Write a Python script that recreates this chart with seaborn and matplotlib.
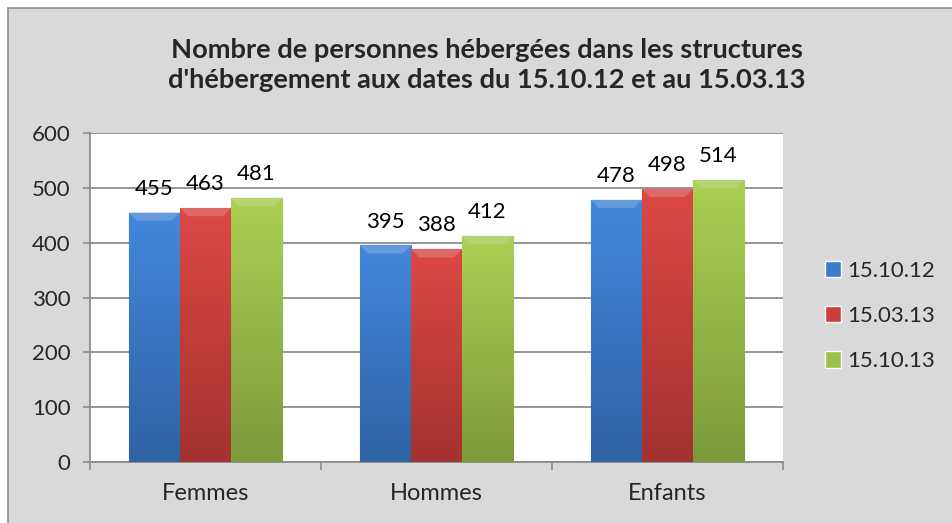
"""Bar chart: persons housed in accommodation structures."""

import matplotlib
matplotlib.use("Agg")
import matplotlib.pyplot as plt
import matplotlib.colors as mcolors
import numpy as np
import pandas as pd
import seaborn as sns
from matplotlib.patches import Polygon, Rectangle

categories = ["Femmes", "Hommes", "Enfants"]
series_names = ["15.10.12", "15.03.13", "15.10.13"]
values_151012 = [455, 395, 478]
values_150313 = [463, 388, 498]
values_151013 = [481, 412, 514]
y_ticks = [0, 100, 200, 300, 400, 500, 600]
title = ("Nombre de personnes hébergées dans les structures\n"
         "d'hébergement aux dates du 15.10.12 et au 15.03.13")

colors = ["#3A7BCC", "#CC3F3C", "#9CC04A"]

df = pd.DataFrame({
    "categorie": categories * 3,
    "date": [s for s in series_names for _ in categories],
    "valeur": values_151012 + values_150313 + values_151013,
})

sns.set_theme(style="white")
plt.rcParams["font.family"] = ["Lato", "DejaVu Sans"]

fig = plt.figure(figsize=(9.53, 5.23), dpi=100)
fig.patch.set_facecolor("white")
# chart area frame (runs off the right and bottom edges, as in the source)
fig.patches.append(Rectangle((8 / 953, -0.1), 2, 1.1 - 8 / 523,
                             transform=fig.transFigure, facecolor="#D9D9D9",
                             edgecolor="#8C8C8C", linewidth=1.2, zorder=-1))

ax = fig.add_axes([90 / 953, 61 / 523, 693 / 953, 329 / 523])
ax.set_zorder(2)
ax.set_facecolor("white")

sns.barplot(data=df, x="categorie", y="valeur", hue="date",
            hue_order=series_names, palette=colors, width=0.663,
            saturation=1, gap=0, ax=ax, zorder=3)

ax.set_xlim(-0.5, 2.5)
ax.set_ylim(0, 600)

# pixel -> data scale, used for the bevel on each bar
fig.canvas.draw()
bb = ax.get_window_extent()
px_x = 3.0 / bb.width
px_y = 600.0 / bb.height

# vertical gradient and top bevel on each bar, clipped to the bar shape
for container, col in zip(ax.containers, colors):
    base = np.array(mcolors.to_rgb(col))
    light = np.clip(base * 1.06 + 0.02, 0, 1)
    dark = base * 0.80
    grad = np.linspace(0, 1, 256)[:, None, None]
    img = light * (1 - grad) + dark * grad
    bevel = np.clip(base + (1 - base) * 0.35, 0, 1)
    for bar in container:
        bar.set_edgecolor(tuple(dark * 0.85))
        bar.set_linewidth(0.8)
        x0, y0 = bar.get_x(), bar.get_y()
        w, h = bar.get_width(), bar.get_height()
        im = ax.imshow(img, extent=[x0, x0 + w, y0, y0 + h], aspect="auto",
                       origin="upper", zorder=3.5, interpolation="bilinear")
        im.set_clip_path(bar)
        bx, by = 8 * px_x, 8 * px_y
        ax.add_patch(Polygon([(x0, y0 + h), (x0 + w, y0 + h),
                              (x0 + w - bx, y0 + h - by),
                              (x0 + bx, y0 + h - by)],
                             closed=True, facecolor=tuple(bevel),
                             edgecolor="none", alpha=0.6, zorder=3.6))
    ax.bar_label(container, padding=10, fontsize=16, color="black")

ax.set_xlim(-0.5, 2.5)
ax.set_ylim(0, 600)
ax.set_yticks(y_ticks)
ax.set_xlabel("")
ax.set_ylabel("")
ax.grid(axis="y", color="#8C8C8C", linewidth=1.3, zorder=1)
ax.set_axisbelow(True)
for side in ["top", "right"]:
    ax.spines[side].set_visible(False)
for side in ["left", "bottom"]:
    ax.spines[side].set_color("#8C8C8C")
    ax.spines[side].set_linewidth(1.3)

ax.tick_params(axis="y", which="major", length=5, width=1.2, color="#8C8C8C",
               labelsize=16, pad=9, left=True)
ax.tick_params(axis="x", which="major", length=0, labelsize=17, pad=15)
ax.set_xticks([-0.5, 0.5, 1.5, 2.5], minor=True)
ax.tick_params(axis="x", which="minor", length=6, width=1.2, color="#8C8C8C",
               bottom=True)

ax.legend(loc="center left", bbox_to_anchor=(1.06, 0.444), frameon=False,
          fontsize=16, handlelength=0.75, handleheight=0.75,
          handletextpad=0.27, labelspacing=1.14, borderpad=0,
          borderaxespad=0)

fig.text(487 / 953, 1 - 65 / 523, title, ha="center", va="center",
         fontsize=19.6, fontweight="bold", linespacing=1.25)

fig.savefig("out.png", dpi=100)
